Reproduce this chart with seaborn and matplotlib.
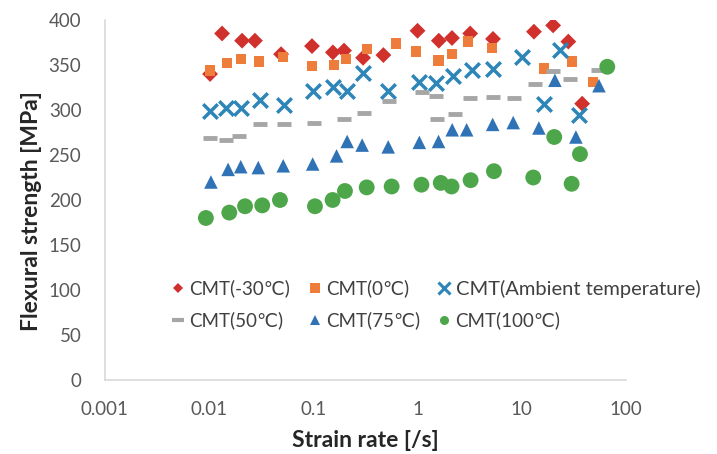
import matplotlib
matplotlib.use("Agg")
import matplotlib.pyplot as plt
import seaborn as sns
import pandas as pd
from matplotlib.lines import Line2D
from matplotlib.ticker import FixedLocator, FixedFormatter, NullLocator

# ---------------- data ----------------
rate_m30 = [0.0102, 0.0133, 0.0207, 0.0275, 0.049, 0.097, 0.154, 0.197, 0.30, 0.47,
            1.0, 1.6, 2.14, 3.2, 5.3, 13.1, 20, 28, 38]
str_m30 = [340, 385, 377, 377, 362, 371, 364, 366, 358, 361,
           388, 377, 380, 385, 379, 387, 394, 376, 307]

rate_0 = [0.0102, 0.0149, 0.0202, 0.030, 0.0514, 0.0976, 0.158, 0.2055, 0.325, 0.621,
          0.959, 1.59, 2.15, 3.07, 5.21, 16.4, 30.3, 48.5]
str_0 = [344, 352, 357, 354, 359, 349, 350, 357, 368, 374,
         365, 355, 362, 376, 369, 346, 354, 331]

rate_amb = [0.0102, 0.0144, 0.0202, 0.0307, 0.0526, 0.0998, 0.153, 0.211, 0.301, 0.523,
            1.04, 1.49, 2.20, 3.35, 5.33, 10.1, 16.4, 23.3, 35.6]
str_amb = [299, 302, 302, 311, 306, 321, 326, 321, 341, 321,
           331, 330, 338, 344, 346, 359, 307, 367, 294]

rate_50 = [0.0102, 0.0145, 0.0193, 0.0307, 0.0526, 0.102, 0.198, 0.306, 0.532, 1.11,
           1.49, 1.55, 2.29, 3.18, 5.33, 8.47, 13.4, 20.1, 29.0, 53.5]
str_50 = [269, 267, 271, 284, 284, 285, 290, 297, 310, 320,
          315, 290, 296, 313, 314, 313, 329, 343, 334, 344]

rate_75 = [0.0104, 0.0152, 0.0201, 0.0296, 0.0514, 0.0985, 0.167, 0.211, 0.294, 0.523,
           1.04, 1.59, 2.15, 2.96, 5.26, 8.28, 14.6, 20.8, 33.1, 55.1]
str_75 = [220, 234, 237, 236, 238, 240, 249, 265, 261, 259,
          264, 265, 278, 278, 284, 286, 280, 333, 270, 327]

rate_100 = [0.0093, 0.0156, 0.0221, 0.0323, 0.0478, 0.1036, 0.153, 0.201, 0.325, 0.564,
            1.09, 1.67, 2.12, 3.23, 5.41, 12.9, 20.5, 30.1, 36.2, 66.2]
str_100 = [180, 186, 193, 194, 200, 193, 200, 210, 214, 215,
           217, 219, 215, 222, 232, 225, 270, 218, 251, 348]

series_names = ["CMT(-30℃)", "CMT(0℃)", "CMT(Ambient temperature)",
                "CMT(50℃)", "CMT(75℃)", "CMT(100℃)"]
x_ticks = [0.001, 0.01, 0.1, 1, 10, 100]
x_tick_labels = ["0.001", "0.01", "0.1", "1", "10", "100"]
y_ticks = [0, 50, 100, 150, 200, 250, 300, 350, 400]

rates = [rate_m30, rate_0, rate_amb, rate_50, rate_75, rate_100]
strengths = [str_m30, str_0, str_amb, str_50, str_75, str_100]

frames = []
for name, r, s in zip(series_names, rates, strengths):
    frames.append(pd.DataFrame({"rate": r, "strength": s, "series": name}))
df = pd.concat(frames, ignore_index=True)

# ---------------- style ----------------
sns.set_theme(style="white")
plt.rcParams["font.family"] = ["Lato", "DejaVu Sans"]

colors = ["#D0312D", "#EE7D3B", "#2E86B8", "#A6A6A6", "#2F72B5", "#4EA64A"]
markers = ["D", "s", "x", "_", "^", "o"]
sizes = [65, 55, 110, 110, 95, 130]
lws = [0, 0, 2.5, 3.5, 0, 0]

fig = plt.figure(figsize=(7.17, 4.54), dpi=100)
ax = fig.add_axes([0.1464, 0.163, 0.873 - 0.1464, 0.956 - 0.163])

for name, c, m, sz, lw in zip(series_names, colors, markers, sizes, lws):
    sub = df[df["series"] == name]
    if m in ("x", "_"):
        sns.scatterplot(data=sub, x="rate", y="strength", marker=m, color=c,
                        s=sz, linewidth=lw, ax=ax, legend=False)
    else:
        sns.scatterplot(data=sub, x="rate", y="strength", marker=m, color=c,
                        s=sz, edgecolor="none", linewidth=0, ax=ax, legend=False)

ax.set_xscale("log")
ax.set_xlim(0.001, 100)
ax.set_ylim(0, 400)
ax.xaxis.set_major_locator(FixedLocator(x_ticks))
ax.xaxis.set_major_formatter(FixedFormatter(x_tick_labels))
ax.xaxis.set_minor_locator(NullLocator())
ax.set_yticks(y_ticks)
ax.tick_params(axis="both", length=0, labelsize=13.5, colors="#595959")
ax.tick_params(axis="y", pad=17)
ax.tick_params(axis="x", pad=15)

for side in ["top", "right"]:
    ax.spines[side].set_visible(False)
for side in ["left", "bottom"]:
    ax.spines[side].set_color("#D9D9D9")
    ax.spines[side].set_linewidth(1.2)

ax.set_xlabel("Strain rate [/s]", fontsize=16.5, fontweight="bold", color="#262626", labelpad=9)
ax.set_ylabel("Flexural strength [MPa]", fontsize=16.5, fontweight="bold", color="#262626")
ax.yaxis.set_label_coords(-0.121, 0.47)

# legend (row-major order in the picture -> reorder for column-major filling)
handles = []
for name, c, m, lw in zip(series_names, colors, markers, lws):
    if m in ("x", "_"):
        h = Line2D([], [], linestyle="none", marker=m, color=c, markersize=9,
                   markeredgewidth=2.2 if m == "x" else 3)
    else:
        h = Line2D([], [], linestyle="none", marker=m, color=c, markersize=6.5 if m != "D" else 5.5,
                   markeredgewidth=0)
    handles.append(h)

order = [0, 3, 1, 4, 2, 5]
leg = ax.legend([handles[i] for i in order], [series_names[i] for i in order],
                ncol=3, loc="upper left",
                bbox_to_anchor=(0.115, 0.30), frameon=False, fontsize=13.5,
                handlelength=0.6, handletextpad=0.3, columnspacing=1.0,
                labelspacing=0.75, borderaxespad=0)
for t in leg.get_texts():
    t.set_color("#404040")
    if "Ambient" in t.get_text():
        t.set_fontsize(14.5)

fig.savefig("out.png", dpi=100)
